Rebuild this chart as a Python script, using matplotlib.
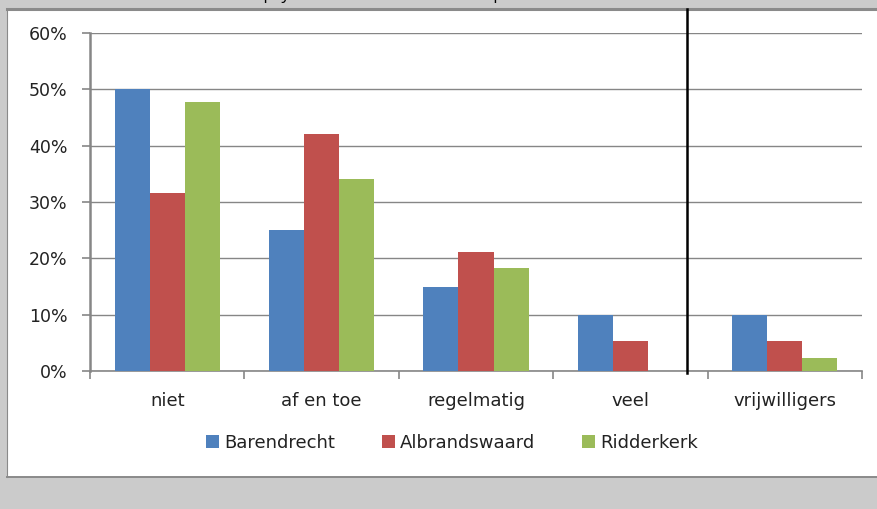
import matplotlib
matplotlib.use("Agg")
import matplotlib.pyplot as plt
from matplotlib.patches import Rectangle
from matplotlib.lines import Line2D
import numpy as np

categories = ["niet", "af en toe", "regelmatig", "veel", "vrijwilligers"]
series_names = ["Barendrecht", "Albrandswaard", "Ridderkerk"]
barendrecht = [50.0, 25.0, 15.0, 10.0, 10.0]
albrandswaard = [31.6, 42.1, 21.1, 5.3, 5.3]
ridderkerk = [47.7, 34.1, 18.2, 0.0, 2.3]
colors = ["#4F81BD", "#C0504D", "#9BBB59"]
y_ticks = [0, 10, 20, 30, 40, 50, 60]
y_tick_labels = ["0%", "10%", "20%", "30%", "40%", "50%", "60%"]
title = "Hoe vaak hebben de inwoners psychosociale klachten en hulp"

W, H = 878, 509
plt.rcParams["font.family"] = ["DejaVu Sans"]
fig = plt.figure(figsize=(W / 100, H / 100), dpi=100)
fig.patch.set_facecolor("#CBCBCB")

def fx(px):
    return px / W

def fy(py):
    return 1 - py / H

# white chart panel with its border
panel = Rectangle((fx(7), fy(477)), fx(W - 7 + 5), (477 - 9) / H,
                  transform=fig.transFigure, facecolor="white",
                  edgecolor="none", zorder=-5)
fig.patches.append(panel)
fig.add_artist(Line2D([fx(7), 1], [fy(8.5), fy(8.5)], color="#8A8A8A", lw=2.2))
fig.add_artist(Line2D([fx(7), 1], [fy(477), fy(477)], color="#8A8A8A", lw=1.4))
fig.add_artist(Line2D([fx(7), fx(7)], [fy(9), fy(477)], color="#8A8A8A", lw=0.8))

# title strip, clipped at the top edge
fig.text(fx(25), fy(-1.0), title, fontsize=12, color="black",
         va="baseline", ha="left", family=["Open Sans", "DejaVu Sans"])

ax = fig.add_axes([fx(90), fy(371), fx(862 - 90), (371 - 33) / H])
ax.set_facecolor("none")

x = np.arange(len(categories))
bw = 0.227
for i, (vals, c) in enumerate(zip([barendrecht, albrandswaard, ridderkerk], colors)):
    ax.bar(x + (i - 1) * bw, vals, width=bw, color=c, label=series_names[i], zorder=3)

ax.set_xlim(-0.5, len(categories) - 0.5)
ax.set_ylim(0, 60)
ax.set_yticks(y_ticks)
ax.set_yticklabels(y_tick_labels, fontsize=12.5, color="#222222")
ax.yaxis.grid(True, color="#868686", lw=1.0, zorder=0)
ax.set_axisbelow(True)

ax.set_xticks(np.arange(-0.5, len(categories) + 0.5, 1.0))
ax.set_xticklabels([])
ax.set_xticks(x, minor=True)
ax.set_xticklabels(categories, minor=True, fontsize=13, color="#222222")
ax.tick_params(axis="x", which="minor", length=0, pad=15)
ax.tick_params(axis="x", which="major", length=6, color="#868686", width=1.2)
ax.tick_params(axis="y", length=6, color="#868686", width=1.2, pad=10)

for s in ["top", "right"]:
    ax.spines[s].set_visible(False)
ax.spines["left"].set_color("#868686")
ax.spines["left"].set_linewidth(1.8)
ax.spines["bottom"].set_color("#868686")
ax.spines["bottom"].set_linewidth(1.2)

# separator between answer categories and volunteers
sep_x = fx(687)
fig.add_artist(Line2D([sep_x, sep_x], [fy(9), fy(373)], color="black", lw=1.8, zorder=5))

leg = fig.legend(*ax.get_legend_handles_labels(), loc="center",
                 bbox_to_anchor=(fx(452), fy(443)), ncol=3,
                 frameon=False, fontsize=13, handlelength=0.7, handleheight=0.7,
                 handletextpad=0.3, columnspacing=2.6, borderpad=0)
for t in leg.get_texts():
    t.set_color("#222222")

fig.savefig("out.png", dpi=100, facecolor=fig.get_facecolor())
